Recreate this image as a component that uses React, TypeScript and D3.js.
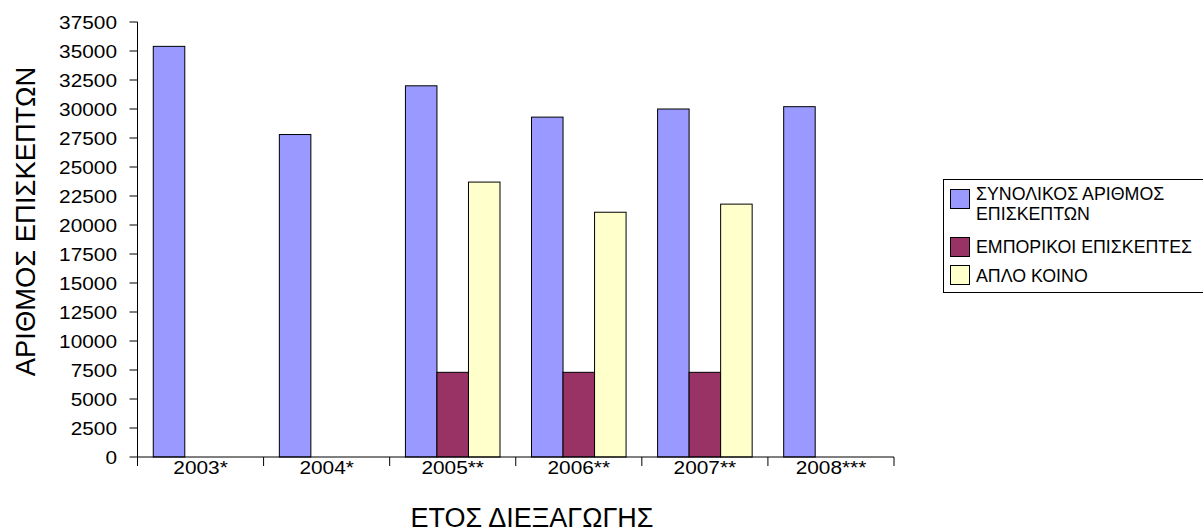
import React from "react";
import * as d3 from "d3";

const categories = ["2003*", "2004*", "2005**", "2006**", "2007**", "2008***"];
const seriesNames = ["ΣΥΝΟΛΙΚΟΣ ΑΡΙΘΜΟΣ ΕΠΙΣΚΕΠΤΩΝ", "ΕΜΠΟΡΙΚΟΙ ΕΠΙΣΚΕΠΤΕΣ", "ΑΠΛΟ ΚΟΙΝΟ"];
const legendLines = [["ΣΥΝΟΛΙΚΟΣ ΑΡΙΘΜΟΣ", "ΕΠΙΣΚΕΠΤΩΝ"], ["ΕΜΠΟΡΙΚΟΙ ΕΠΙΣΚΕΠΤΕΣ"], ["ΑΠΛΟ ΚΟΙΝΟ"]];
const totalVisitors = [35400, 27800, 32000, 29300, 30000, 30200];
const tradeVisitors = [0, 0, 7300, 7300, 7300, 0];
const generalPublic = [0, 0, 23700, 21100, 21800, 0];
const yTicks = [0, 2500, 5000, 7500, 10000, 12500, 15000, 17500, 20000, 22500, 25000, 27500, 30000, 32500, 35000, 37500];
const colors = ["#9999FF", "#993366", "#FFFFCC"];

const FONT = "'Liberation Sans', Arial, sans-serif";

export default function App() {
  const W = 1203, H = 532;
  const left = 137.5, right = 894, top = 22, bottom = 457;
  const series = [totalVisitors, tradeVisitors, generalPublic];
  const x = d3.scaleBand<string>().domain(categories).range([left, right]).paddingInner(0.25).paddingOuter(0.125);
  const xBoundaries = d3.scaleBand<string>().domain(categories).range([left, right]);
  const inner = d3.scaleBand<number>().domain([0, 1, 2]).range([0, x.bandwidth()]);
  const y = d3.scaleLinear().domain([0, 37500]).range([bottom, top]);
  const SX = 1.12;

  return (
    <svg width={W} height={H} style={{ position: "absolute", left: 0, top: 0, background: "#fff" }} fontFamily={FONT} fill="#000">
      <rect x={0} y={0} width={W} height={H} fill="#fff" />
      {/* bars */}
      {categories.map((c, ci) =>
        series.map((s, si) => {
          const bx = (x(c) as number) + (inner(si) as number);
          const v = s[ci];
          return (
            <rect key={c + si} x={bx} y={y(v)} width={inner.bandwidth()} height={bottom - y(v)}
              fill={colors[si]} stroke="#000" strokeWidth={1} />
          );
        })
      )}
      {/* y axis */}
      <line x1={left} x2={left} y1={top} y2={bottom} stroke="#000" />
      {yTicks.map((t) => (
        <g key={t}>
          <line x1={left - 8} x2={left} y1={y(t)} y2={y(t)} stroke="#000" />
          <text transform={`translate(117,${y(t) + 6.6}) scale(${SX},1)`} textAnchor="end" fontSize={18.6}>{t}</text>
        </g>
      ))}
      {/* x axis */}
      <line x1={left} x2={right} y1={bottom} y2={bottom} stroke="#000" />
      {categories.map((c) => (
        <line key={"tk" + c} x1={xBoundaries(c) as number} x2={xBoundaries(c) as number} y1={bottom} y2={bottom + 9} stroke="#000" />
      ))}
      <line x1={right} x2={right} y1={bottom} y2={bottom + 9} stroke="#000" />
      {categories.map((c) => (
        <text key={"lb" + c}
          transform={`translate(${(xBoundaries(c) as number) + xBoundaries.bandwidth() / 2},${473.7}) scale(${SX},1)`}
          textAnchor="middle" fontSize={18.6}>{c}</text>
      ))}
      <text x={532} y={526.5} textAnchor="middle" fontSize={27}>ΕΤΟΣ ΔΙΕΞΑΓΩΓΗΣ</text>
      <text transform="translate(35,221.5) rotate(-90)" textAnchor="middle" fontSize={27.4}>ΑΡΙΘΜΟΣ ΕΠΙΣΚΕΠΤΩΝ</text>
      {/* legend */}
      <rect x={943.5} y={179.5} width={270} height={113} fill="#fff" stroke="#000" />
      {seriesNames.map((n, i) => {
        const ys = [189, 237, 265][i];
        const base = [199.5, 252.5, 281.5][i];
        return (
          <g key={n}>
            <rect x={950.5} y={ys + 0.5} width={19} height={19} fill={colors[i]} stroke="#000" />
            {legendLines[i].map((line, li) => (
              <text key={line} x={976} y={base + li * 20} fontSize={17.8}>{line}</text>
            ))}
          </g>
        );
      })}
    </svg>
  );
}
